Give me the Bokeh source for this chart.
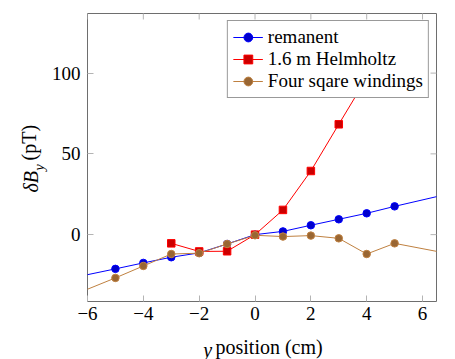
import math
from bokeh.plotting import figure
from bokeh.models import (Range1d, FixedTicker, LinearAxis, Legend, LegendItem, Label)
from bokeh.embed import file_html
from bokeh.resources import INLINE

# ---- data ----
x_rem = [-7, -5, -4, -3, -2, -1, 0, 1, 2, 3, 4, 5, 7]
y_rem = [-28.4, -21.2, -17.5, -14.0, -11.3, -5.8, 0.0, 2.0, 5.8, 9.5, 13.2, 17.5, 25.5]

x_helm = [-3, -2, -1, 0, 1, 2, 3, 4, 5]
y_helm = [-5.4, -10.4, -10.3, 0.0, 15.3, 39.4, 68.3, 97.0, 128.0]

x_four = [-7, -5, -4, -3, -2, -1, 0, 1, 2, 3, 4, 5, 7]
y_four = [-40.8, -26.8, -19.4, -12.0, -11.5, -5.8, -0.4, -1.2, -0.6, -2.3, -12.0, -5.4, -12.0]

series_names = ["remanent", "1.6 m Helmholtz", "Four sqare windings"]

x_ticks = [-6, -4, -2, 0, 2, 4, 6]
x_tick_labels = ["\u22126", "\u22124", "\u22122", "0", "2", "4", "6"]
y_ticks = [0, 50, 100]
y_tick_labels = ["0", "50", "100"]

X_LO, X_HI = -6, 6.5
Y_LO, Y_HI = -41.4, 136.9

FONT = "Liberation Serif"
TICK_COLOR = "#b4b4b4"

p = figure(width=455, height=359, output_backend="svg", toolbar_location=None,
           x_range=Range1d(X_LO, X_HI), y_range=Range1d(Y_LO, Y_HI),
           min_border_left=87, min_border_right=19, min_border_top=13, min_border_bottom=58,
           x_axis_location=None, y_axis_location=None)
p.grid.visible = False
p.outline_line_color = "#6e6e6e"
p.outline_line_width = 1
p.background_fill_color = "white"
p.border_fill_color = "white"


def make_axis(ticks, labels):
    ax = LinearAxis(ticker=FixedTicker(ticks=ticks))
    ax.axis_line_color = None
    ax.major_tick_in = 6
    ax.major_tick_out = 0
    ax.major_tick_line_color = TICK_COLOR
    ax.major_tick_line_width = 1
    ax.minor_tick_line_color = None
    ax.major_label_overrides = {t: l for t, l in zip(ticks, labels)}
    ax.major_label_text_font = FONT
    ax.major_label_text_font_size = "19px"
    ax.major_label_text_color = "black"
    return ax


xb = make_axis(x_ticks, x_tick_labels)
xb.major_label_standoff = 5
p.add_layout(xb, "below")
yl = make_axis(y_ticks, y_tick_labels)
yl.major_label_standoff = 7
p.add_layout(yl, "left")

# inward ticks on the top and right edges (half of each dash is clipped by the frame)
p.scatter(x_ticks, [Y_HI] * len(x_ticks), marker="dash", angle=math.pi / 2, size=12,
          line_color=TICK_COLOR, line_width=1)
p.scatter([X_HI] * len(y_ticks), y_ticks, marker="dash", size=12,
          line_color=TICK_COLOR, line_width=1)

# ---- series ----
l1 = p.line(x_rem, y_rem, line_color="#0000ff", line_width=1)
m1 = p.scatter(x_rem, y_rem, marker="circle", size=7.5, fill_color="#0000cc", line_color="#0000ff")
l2 = p.line(x_helm, y_helm, line_color="#ff0000", line_width=1)
m2 = p.scatter(x_helm, y_helm, marker="square", size=7.5, fill_color="#cc0000", line_color="#ff0000")
l3 = p.line(x_four, y_four, line_color="#bf8040", line_width=1)
m3 = p.scatter(x_four, y_four, marker="circle", size=7.5, fill_color="#996633", line_color="#bf8040")

legend = Legend(items=[
    LegendItem(label=series_names[0], renderers=[l1, m1]),
    LegendItem(label=series_names[1], renderers=[l2, m2]),
    LegendItem(label=series_names[2], renderers=[l3, m3]),
], location="top_right")
legend.margin = 7
legend.padding = 5
legend.spacing = 0
legend.label_height = 22
legend.glyph_height = 22
legend.glyph_width = 30
legend.label_standoff = 5
legend.label_text_font = FONT
legend.label_text_font_size = "19px"
legend.label_text_color = "black"
legend.border_line_color = "#333333"
legend.border_line_width = 1
legend.background_fill_color = "white"
legend.background_fill_alpha = 1.0
p.add_layout(legend, "center")

# ---- axis titles (placed in side panels so they are not clipped by the frame) ----
ang = math.pi / 2
lab_pos = Label(x=128, y=-2, x_units="screen", y_units="screen", text="position (cm)",
                text_font=FONT, text_font_size="20px",
                text_align="left", text_baseline="alphabetic", text_color="black")
p.add_layout(lab_pos, "below")
lab_y = Label(x=-233.3, y=-48, x_units="screen", y_units="screen", text="y",
              text_font=FONT, text_font_size="20px", text_font_style="italic",
              text_align="left", text_baseline="alphabetic", text_color="black")
p.add_layout(lab_y, "right")

lab_dB = Label(x=4, y=109, x_units="screen", y_units="screen", text="\u03b4B", angle=ang,
               text_font=FONT, text_font_size="20px", text_font_style="italic",
               text_align="left", text_baseline="alphabetic", text_color="black")
p.add_layout(lab_dB, "left")
lab_pT = Label(x=24, y=141, x_units="screen", y_units="screen", text="(pT)", angle=ang,
               text_font=FONT, text_font_size="20px",
               text_align="left", text_baseline="alphabetic", text_color="black")
p.add_layout(lab_pT, "left")
lab_sub = Label(x=-48, y=-157, x_units="screen", y_units="screen", text="y", angle=ang,
                text_font=FONT, text_font_size="14px", text_font_style="italic",
                text_align="left", text_baseline="alphabetic", text_color="black")
p.add_layout(lab_sub, "above")

open("out.html", "w").write(file_html(p, INLINE))
